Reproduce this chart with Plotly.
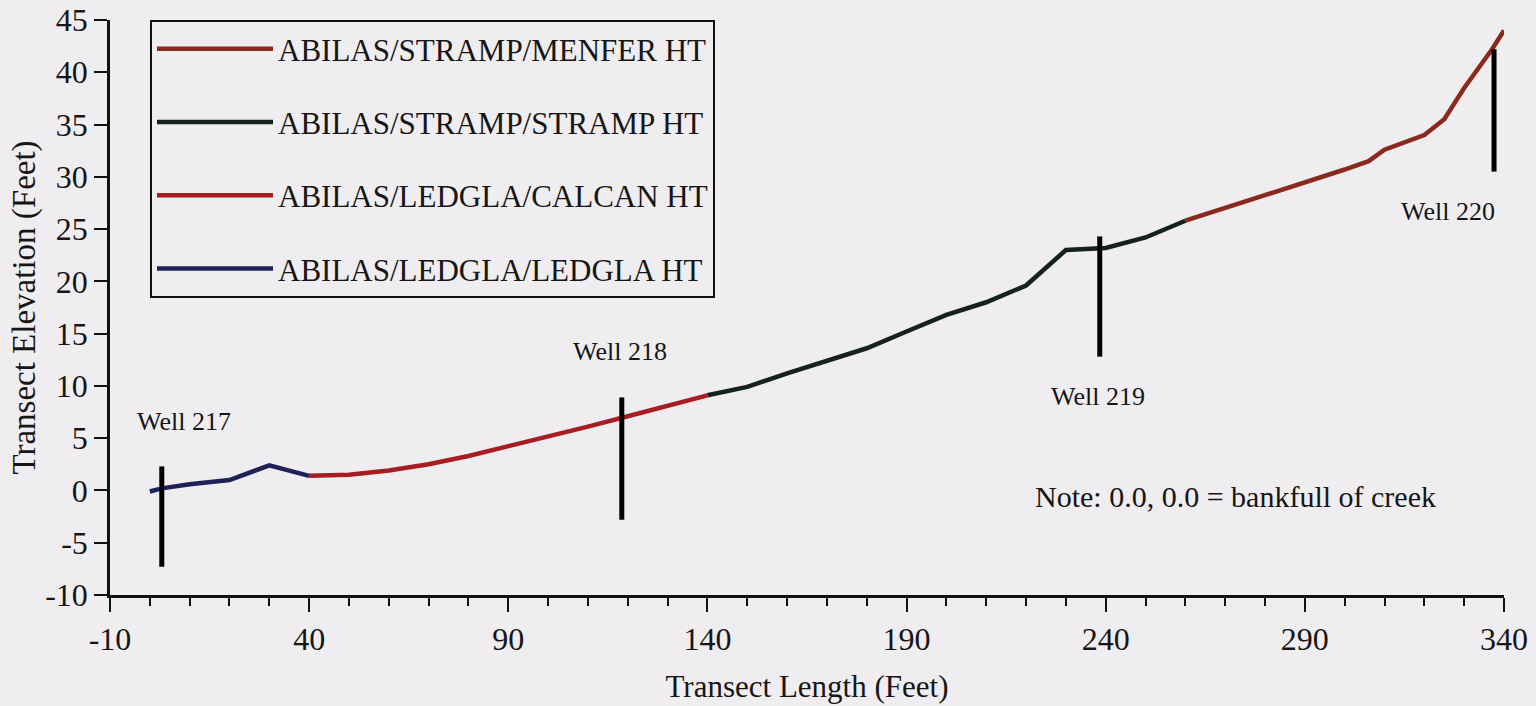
import plotly.graph_objects as go

# Transect profile segments (distance along transect in feet, elevation in feet)
ledgla_x = [0, 3, 10, 20, 30, 40]
ledgla_y = [-0.1, 0.2, 0.6, 1.0, 2.4, 1.4]

calcan_x = [40, 50, 60, 70, 80, 90, 100, 110, 120, 130, 140]
calcan_y = [1.4, 1.5, 1.9, 2.5, 3.3, 4.2, 5.1, 6.1, 7.1, 8.1, 9.1]

stramp_x = [140, 150, 160, 170, 180, 190, 200, 210, 220, 230, 240, 250, 260]
stramp_y = [9.1, 9.9, 11.2, 12.4, 13.6, 15.2, 16.8, 18.0, 19.6, 23.0, 23.2, 24.2, 25.8]

menfer_x = [260, 270, 280, 290, 300, 306, 310, 320, 325, 330, 337, 340]
menfer_y = [25.8, 27.0, 28.3, 29.5, 30.7, 31.5, 32.6, 34.0, 35.5, 38.5, 42.2, 44.0]

# Monitoring wells: position, top and bottom of the casing line
well_names = ["Well 217", "Well 218", "Well 219", "Well 220"]
well_x = [3, 118.5, 238.5, 337.5]
well_top = [2.3, 8.9, 24.3, 42.2]
well_bottom = [-7.3, -2.8, 12.8, 30.5]
well_label_x = [8.5, 118, 238, 326]
well_label_y = [6.6, 13.3, 9.0, 26.7]

x_ticks = [-10, 40, 90, 140, 190, 240, 290, 340]
x_tick_text = ["-10", "40", "90", "140", "190", "240", "290", "340"]
y_ticks = [-10, -5, 0, 5, 10, 15, 20, 25, 30, 35, 40, 45]
y_tick_text = ["-10", "-5", "0", "5", "10", "15", "20", "25", "30", "35", "40", "45"]

FONT = "Liberation Serif"
INK = "#161616"
PAPER = "#efedef"

series = [
    ("ABILAS/STRAMP/MENFER HT", menfer_x, menfer_y, "#8a2a1f"),
    ("ABILAS/STRAMP/STRAMP HT", stramp_x, stramp_y, "#142219"),
    ("ABILAS/LEDGLA/CALCAN HT", calcan_x, calcan_y, "#a61d22"),
    ("ABILAS/LEDGLA/LEDGLA HT", ledgla_x, ledgla_y, "#1f2258"),
]

fig = go.Figure()

for name, xs, ys, color in series:
    fig.add_trace(go.Scatter(
        x=xs, y=ys, mode="lines", name=name, legendgroup=name,
        line=dict(color=color, width=4.5),
    ))

# Well casings as vertical bars
wx, wy = [], []
for x, top, bot in zip(well_x, well_top, well_bottom):
    wx += [x, x, None]
    wy += [bot, top, None]
fig.add_trace(go.Scatter(
    x=wx, y=wy, mode="lines", showlegend=False, hoverinfo="skip",
    line=dict(color="#000000", width=5),
))

annotations = []
for name, lx, ly in zip(well_names, well_label_x, well_label_y):
    annotations.append(dict(
        x=lx, y=ly, xref="x", yref="y", text=name, showarrow=False,
        font=dict(family=FONT, size=26, color=INK),
    ))
annotations.append(dict(
    x=272.5, y=-0.6, xref="x", yref="y", text="Note: 0.0, 0.0 = bankfull of creek",
    showarrow=False, font=dict(family=FONT, size=30, color=INK),
))

fig.update_layout(
    width=1536, height=706,
    margin=dict(l=110, r=32, t=20, b=111),
    paper_bgcolor=PAPER, plot_bgcolor=PAPER,
    font=dict(family=FONT, color=INK),
    showlegend=True,
    legend=dict(
        x=0.0287, y=1.0, xanchor="left", yanchor="top",
        bgcolor="rgba(0,0,0,0)", bordercolor="#111111", borderwidth=2,
        font=dict(family=FONT, size=31, color=INK),
        tracegroupgap=30, itemwidth=116,
    ),
    annotations=annotations,
    xaxis=dict(
        range=[-10, 340], tickvals=x_ticks, ticktext=x_tick_text,
        ticks="outside", ticklen=14, tickwidth=2, tickcolor="#111111",
        minor=dict(dtick=10, tick0=-10, ticks="outside", ticklen=8, tickwidth=1.5,
                   tickcolor="#111111", showgrid=False),
        showline=True, linecolor="#111111", linewidth=2.5,
        showgrid=False, zeroline=False, automargin=False,
        tickfont=dict(family=FONT, size=32, color=INK),
        title=dict(text="Transect Length (Feet)", font=dict(family=FONT, size=31, color=INK),
                   standoff=20),
    ),
    yaxis=dict(
        range=[-10, 45], tickvals=y_ticks, ticktext=y_tick_text,
        ticks="outside", ticklen=13, tickwidth=2, tickcolor="#111111",
        showline=True, linecolor="#111111", linewidth=2.5,
        showgrid=False, zeroline=False, automargin=False,
        tickfont=dict(family=FONT, size=32, color=INK),
        title=dict(text="Transect Elevation (Feet)", font=dict(family=FONT, size=33, color=INK),
                   standoff=0),
    ),
)

fig.write_html("out.html")
